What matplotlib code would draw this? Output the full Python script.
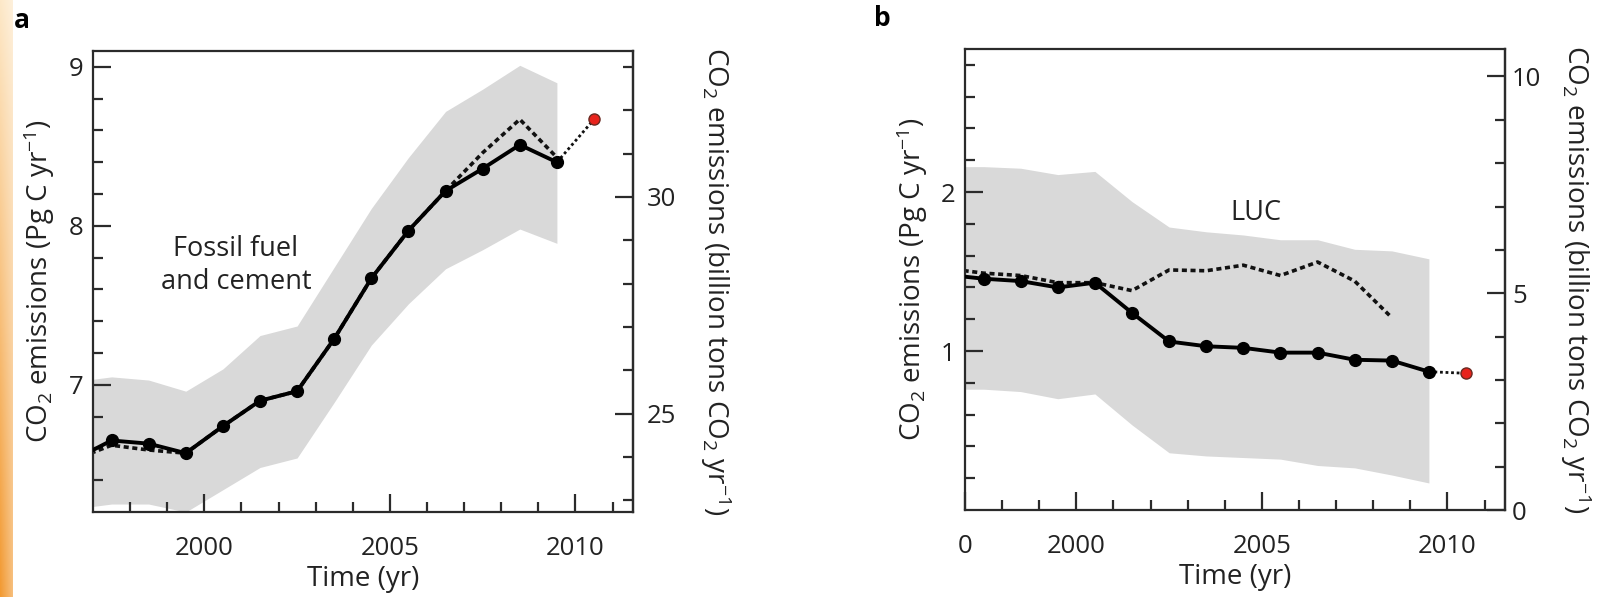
import matplotlib
matplotlib.use("Agg")
import matplotlib.pyplot as plt
import numpy as np
from matplotlib.colors import to_rgb

plt.rcParams['font.family'] = ['Open Sans', 'DejaVu Sans']
plt.rcParams['mathtext.fontset'] = 'custom'
plt.rcParams['mathtext.rm'] = 'Open Sans'
plt.rcParams['mathtext.it'] = 'Open Sans:italic'
plt.rcParams['mathtext.sf'] = 'Open Sans'

# ---- data: panel a, fossil fuel and cement (Pg C / yr)
ff_years = [1996.5, 1997.5, 1998.5, 1999.5, 2000.5, 2001.5, 2002.5,
            2003.5, 2004.5, 2005.5, 2006.5, 2007.5, 2008.5, 2009.5]
ff_solid = [6.53, 6.65, 6.63, 6.57, 6.74, 6.90, 6.96, 7.29, 7.67, 7.97, 8.22, 8.36, 8.51, 8.40]
ff_dotted = [6.53, 6.62, 6.59, 6.57, 6.74, 6.90, 6.96, 7.29, 7.67, 7.97, 8.22, 8.46, 8.67, 8.43]
ff_upper = [7.02, 7.05, 7.03, 6.96, 7.10, 7.31, 7.37, 7.74, 8.11, 8.43, 8.72, 8.86, 9.01, 8.90]
ff_lower = [6.22, 6.25, 6.25, 6.20, 6.34, 6.48, 6.54, 6.89, 7.25, 7.51, 7.73, 7.85, 7.98, 7.89]
ff_2010 = 8.67

# ---- data: panel b, land use change (Pg C / yr)
luc_years = ff_years
luc_solid = [1.48, 1.455, 1.44, 1.40, 1.43, 1.24, 1.06, 1.03, 1.02, 0.99, 0.99, 0.945, 0.94, 0.87]
luc_dot_years = [1996.5, 1997.5, 1998.5, 1999.5, 2000.5, 2001.5, 2002.5,
                 2003.5, 2004.5, 2005.5, 2006.5, 2007.5, 2008.5]
luc_dotted = [1.52, 1.49, 1.475, 1.43, 1.43, 1.38, 1.51, 1.505, 1.54, 1.475, 1.56, 1.44, 1.21]
luc_upper = [2.16, 2.16, 2.15, 2.11, 2.13, 1.94, 1.78, 1.75, 1.73, 1.70, 1.70, 1.64, 1.63, 1.58]
luc_lower = [0.76, 0.76, 0.745, 0.70, 0.73, 0.535, 0.36, 0.34, 0.33, 0.32, 0.28, 0.265, 0.22, 0.17]
luc_2010 = 0.86
year_2010 = 2010.5

C2CO2 = 44.0 / 12.0
ink = '#2b2b2b'
band = '#d9d9d9'
dots = (0, (1.4, 1.0))

fig = plt.figure(figsize=(16.07, 5.97), dpi=100)

# orange strip at the left edge
strip = fig.add_axes([0, 0, 13 / 1607, 1])
top_c, bot_c = np.array(to_rgb('#fde8c8')), np.array(to_rgb('#f29a33'))
t = np.linspace(0, 1, 200)[:, None, None]
s = np.linspace(0, 1, 13)[None, :, None]
grad = top_c * (1 - t) + bot_c * t
grad = grad * (1 - 0.35 * s) + np.ones(3) * 0.35 * s
strip.imshow(grad, aspect='auto', extent=[0, 1, 0, 1])
strip.axis('off')


def style(ax, ylim, ymaj, ymin, sec_maj, sec_min, xlabels, rpad, rlabpad):
    ax.set_xlim(1997, 2011.55)
    ax.set_ylim(*ylim)
    ax.set_xticks([1997, 2000, 2005, 2010] if xlabels[0] else [2000, 2005, 2010])
    ax.set_xticklabels([l for l in xlabels if l])
    ax.set_xticks([1998, 1999, 2001, 2002, 2003, 2004, 2006, 2007, 2008, 2009, 2011], minor=True)
    ax.set_yticks(ymaj)
    ax.set_yticks(ymin, minor=True)
    for sp in ax.spines.values():
        sp.set_color(ink)
        sp.set_linewidth(1.6)
    ax.tick_params(which='both', direction='in', color=ink, width=1.6,
                   top=False, right=False, labelsize=18.5, labelcolor='#222222')
    ax.tick_params(which='major', length=13)
    ax.tick_params(which='minor', length=7)
    ax.tick_params(axis='x', pad=17)
    ax.tick_params(axis='y', pad=7)
    sec = ax.secondary_yaxis('right', functions=(lambda v: v * C2CO2, lambda v: v / C2CO2))
    sec.set_yticks(sec_maj)
    sec.set_yticks(sec_min, minor=True)
    sec.spines['right'].set_color(ink)
    sec.spines['right'].set_linewidth(1.6)
    sec.tick_params(which='both', direction='in', color=ink, width=1.6, labelsize=18.5,
                    pad=rpad, labelcolor='#222222')
    sec.tick_params(which='major', length=13)
    sec.tick_params(which='minor', length=7)
    ax.set_xlabel('Time (yr)', fontsize=20, labelpad=3, color='#222222')
    ax.set_ylabel(r'CO$_2$ emissions (Pg C yr$^{-1}$)', fontsize=20, labelpad=8,
                  color='#222222')
    sec.set_ylabel(r'CO$_2$ emissions (billion tons CO$_2$ yr$^{-1}$)', fontsize=20,
                   rotation=270, va='bottom', labelpad=rlabpad, color='#222222')
    return sec


# ---- panel a
axa = fig.add_axes([93 / 1607, 1 - 512 / 597, 540 / 1607, 461 / 597])
axa.fill_between(ff_years, ff_lower, ff_upper, color=band, lw=0, zorder=1)
axa.plot(ff_years, ff_dotted, color='#111111', lw=2.6, ls=dots, zorder=2)
axa.plot(ff_years, ff_solid, color='black', lw=2.8, marker='o', ms=8.5, zorder=3)
axa.plot([ff_years[-1], year_2010], [ff_solid[-1], ff_2010], color='#111111', lw=2.0,
         ls=(0, (1, 1)), zorder=2)
axa.plot([year_2010], [ff_2010], marker='o', ms=8, mfc='#e8231c', mec='#6a2a22',
         mew=1, ls='none', zorder=4)
axa.text(2000.85, 7.75, 'Fossil fuel\nand cement', fontsize=19.5, ha='center', va='center',
         linespacing=1.25, color='#222222')
style(axa, (6.2, 9.1), [7, 8, 9],
      [6.4, 6.6, 6.8, 7.2, 7.4, 7.6, 7.8, 8.2, 8.4, 8.6, 8.8],
      [25, 30], [23, 24, 26, 27, 28, 29, 31, 32, 33],
      [None, '2000', '2005', '2010'], rpad=10, rlabpad=16)

# ---- panel b
axb = fig.add_axes([965 / 1607, 1 - 510 / 597, 540 / 1607, 461 / 597])
axb.fill_between(luc_years, luc_lower, luc_upper, color=band, lw=0, zorder=1)
axb.plot(luc_dot_years, luc_dotted, color='#111111', lw=2.6, ls=dots, zorder=2)
axb.plot(luc_years, luc_solid, color='black', lw=2.8, marker='o', ms=8.5, zorder=3)
axb.plot([luc_years[-1], year_2010], [luc_solid[-1], luc_2010], color='#111111', lw=2.0,
         ls=(0, (1, 1)), zorder=2)
axb.plot([year_2010], [luc_2010], marker='o', ms=8, mfc='#e8231c', mec='#6a2a22',
         mew=1, ls='none', zorder=4)
axb.text(2004.85, 1.87, 'LUC', fontsize=19.5, ha='center', va='center', color='#222222')
style(axb, (0, 2.9), [1, 2],
      [0.2, 0.4, 0.6, 0.8, 1.2, 1.4, 1.6, 1.8, 2.2, 2.4, 2.6, 2.8],
      [0, 5, 10], [1, 2, 3, 4, 6, 7, 8, 9],
      ['0', '2000', '2005', '2010'], rpad=5, rlabpad=12)

fig.text(22 / 1607, 1 - 21 / 597, 'a', fontsize=19, fontweight='bold', ha='center', va='center')
fig.text(882 / 1607, 1 - 19 / 597, 'b', fontsize=19, fontweight='bold', ha='center', va='center')

fig.savefig('out.png', dpi=100)
